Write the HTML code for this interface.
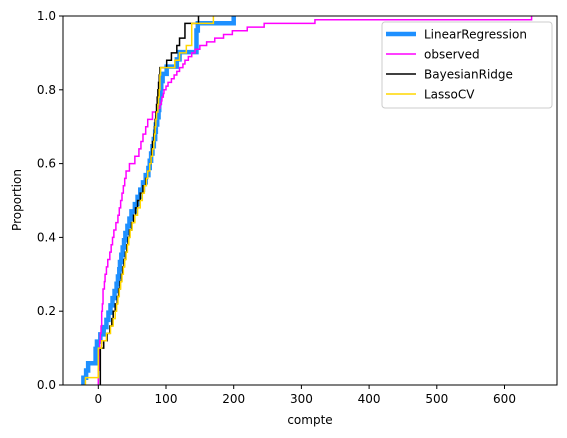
<!DOCTYPE html>
<html><head><meta charset="utf-8"><style>
body{margin:0;background:#fff;}
svg{display:block;font-family:"DejaVu Sans","Liberation Sans",sans-serif;}
</style></head><body>
<svg id="chart" width="567" height="438">
<defs><clipPath id="clip"><rect x="63" y="16" width="494" height="369"/></clipPath></defs>
<rect x="0" y="0" width="567" height="438" fill="#fff"/>
<g id="series" clip-path="url(#clip)"></g>
<rect x="63" y="16" width="494" height="369" fill="none" stroke="#000" stroke-width="1"/>
<g id="xticks"></g><g id="yticks"></g>
<text x="310" y="424" text-anchor="middle" font-size="12">compte</text>
<text x="21" y="200" text-anchor="middle" font-size="12" transform="rotate(-90 21 200)">Proportion</text>
<g id="legend">
<rect x="382" y="22" width="170" height="86" rx="3" fill="#fff" fill-opacity="0.8" stroke="#ccc"/>
</g>
</svg>
<script>
const seriesNames=["LinearRegression","observed","BayesianRidge","LassoCV"];
const linReg=[-22,-18,-15,-4,-4,-2,3,8,12,15,18,21,24,27,29,31,32,34,36,38,40,43,46,49,54,58,62,66,70,74,76,78,80,82,84,85,87,89,90,91,92,93,95,101,116,120,145,145,145,147,200];
const observed=[0,0,0,0,1,1,1,1,2,2,2,2,3,3,4,4,5,5,5,5,6,6,7,7,7,7,9,9,10,10,12,12,14,14,17,17,19,19,21,21,23,23,26,26,29,29,31,31,33,33,35,35,37,37,39,39,41,41,46,46,54,54,60,60,63,63,66,66,70,70,73,73,80,80,88,91,93,94,96,97,100,103,108,112,116,120,125,128,133,138,143,150,160,172,185,198,220,245,320,640];
const bayesRidge=[3,3,3,3,3,8,13,17,20,22,25,28,30,32,34,36,38,40,42,44,46,49,52,55,58,62,66,70,73,76,78,79,80,82,83,84,85,86,87,88,89,90,91,101,108,116,120,128,128,148];
const lassoCV=[-19,0,0,0,0,5,12,18,22,25,27,29,31,33,35,37,39,41,43,45,47,50,54,58,62,65,68,71,73,76,78,80,82,83,84,85,86,88,89,90,91,91,92,113,120,130,138,138,138,170];
const xTicks=[0,100,200,300,400,500,600];
const yTicks=[0,0.2,0.4,0.6,0.8,1.0];
const xs=v=>98.3+v*0.677;
const ys=v=>385-v*369;
const NS="http://www.w3.org/2000/svg";
const colors=["#1E90FF","#FF00FF","#000000","#FFD700"];
const widths=[4.5,1.5,1.5,1.5];
const data=[linReg,observed,bayesRidge,lassoCV];
const g=document.getElementById('series');
data.forEach((arr,si)=>{
  const s=arr.slice().sort((a,b)=>a-b);const n=s.length;
  let d="M"+xs(s[0])+","+ys(0);let py=0;
  s.forEach((v,i)=>{const y=(i+1)/n;d+=" L"+xs(v)+","+ys(py)+" L"+xs(v)+","+ys(y);py=y;});
  const p=document.createElementNS(NS,'path');
  p.setAttribute('d',d);p.setAttribute('fill','none');p.setAttribute('stroke',colors[si]);p.setAttribute('stroke-width',widths[si]);
  
  
  g.appendChild(p);
});
const xt=document.getElementById('xticks');
xTicks.forEach(t=>{
  const l=document.createElementNS(NS,'line');l.setAttribute('x1',xs(t));l.setAttribute('x2',xs(t));l.setAttribute('y1',385);l.setAttribute('y2',389);l.setAttribute('stroke','#000');
  
  
  xt.appendChild(l);
  const tx=document.createElementNS(NS,'text');tx.setAttribute('x',xs(t));tx.setAttribute('y',403);tx.setAttribute('text-anchor','middle');tx.setAttribute('font-size','12');tx.textContent=t;
  
  
  xt.appendChild(tx);
});
const yt=document.getElementById('yticks');
yTicks.forEach(t=>{
  const l=document.createElementNS(NS,'line');l.setAttribute('x1',59);l.setAttribute('x2',63);l.setAttribute('y1',ys(t));l.setAttribute('y2',ys(t));l.setAttribute('stroke','#000');
  
  
  yt.appendChild(l);
  const tx=document.createElementNS(NS,'text');tx.setAttribute('x',56);tx.setAttribute('y',ys(t)+4);tx.setAttribute('text-anchor','end');tx.setAttribute('font-size','12');tx.textContent=t.toFixed(1);
  
  
  yt.appendChild(tx);
});
const lg=document.getElementById('legend');
seriesNames.forEach((nm,i)=>{
  const y=34+i*20;
  const l=document.createElementNS(NS,'line');l.setAttribute('x1',386);l.setAttribute('x2',416);l.setAttribute('y1',y);l.setAttribute('y2',y);l.setAttribute('stroke',colors[i]);l.setAttribute('stroke-width',widths[i]);
  
  
  lg.appendChild(l);
  const tx=document.createElementNS(NS,'text');tx.setAttribute('x',424);tx.setAttribute('y',y+4.5);tx.setAttribute('font-size','12');tx.textContent=nm;
  
  
  lg.appendChild(tx);
});
</script>
</body></html>
